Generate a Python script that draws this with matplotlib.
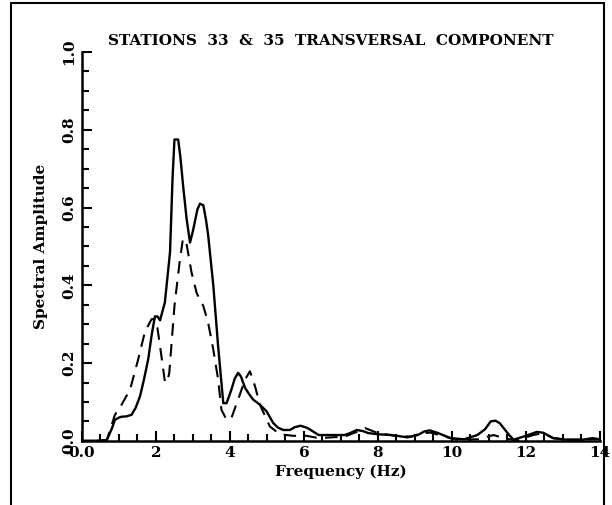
import matplotlib
matplotlib.use('Agg')
import matplotlib.pyplot as plt
from matplotlib.patches import Rectangle
from matplotlib.ticker import MultipleLocator

# station 33 (solid) and station 35 (dashed)
freq_a = [0.0, 0.3, 0.67, 0.8, 0.89, 1.0, 1.07, 1.2, 1.34, 1.45, 1.57, 1.68,
          1.79, 1.88, 1.97, 2.04, 2.11, 2.24, 2.38, 2.45, 2.5, 2.6, 2.66,
          2.74, 2.83, 2.92, 3.0, 3.05, 3.12, 3.19, 3.28, 3.35, 3.41, 3.55,
          3.68, 3.82, 3.91, 4.04, 4.13, 4.22, 4.3, 4.41, 4.52, 4.63, 4.81,
          4.99, 5.17, 5.3, 5.44, 5.62, 5.75, 5.91, 6.1, 6.4, 7.1, 7.25, 7.43,
          7.6, 7.74, 8.0, 8.37, 8.8, 9.08, 9.25, 9.4, 9.6, 9.97, 10.33, 10.69,
          10.9, 11.05, 11.18, 11.3, 11.4, 11.55, 11.67, 11.94, 12.3, 12.47,
          12.74, 13.1, 13.55, 13.8, 14.0]
amp_a = [0.0, 0.0, 0.002, 0.03, 0.054, 0.06, 0.062, 0.063, 0.067, 0.085,
         0.115, 0.16, 0.21, 0.27, 0.32, 0.32, 0.31, 0.356, 0.485, 0.68, 0.775,
         0.775, 0.73, 0.65, 0.57, 0.51, 0.54, 0.563, 0.595, 0.61, 0.606, 0.57,
         0.53, 0.40, 0.244, 0.097, 0.097, 0.132, 0.16, 0.175, 0.165, 0.136,
         0.12, 0.106, 0.093, 0.076, 0.046, 0.034, 0.028, 0.028, 0.035, 0.039,
         0.033, 0.015, 0.015, 0.02, 0.028, 0.025, 0.02, 0.017, 0.015, 0.009,
         0.015, 0.024, 0.027, 0.021, 0.007, 0.004, 0.015, 0.03, 0.05, 0.052,
         0.045, 0.033, 0.015, 0.003, 0.011, 0.023, 0.021, 0.007, 0.003, 0.003,
         0.007, 0.004]

freq_b = [0.0, 0.3, 0.67, 0.89, 1.07, 1.3, 1.52, 1.7, 1.88, 1.97, 2.04, 2.11,
          2.24, 2.3, 2.36, 2.5, 2.64, 2.73, 2.82, 2.96, 3.1, 3.28, 3.41, 3.55,
          3.68, 3.77, 3.91, 4.04, 4.22, 4.41, 4.54, 4.68, 4.81, 5.08, 5.35,
          5.71, 6.07, 6.4, 7.1, 7.4, 7.65, 8.0, 8.46, 8.9, 9.17, 9.44, 9.8,
          10.15, 10.7, 11.13, 11.4, 11.76, 12.2, 12.47, 12.74, 13.2, 13.9]
amp_b = [0.0, 0.0, 0.002, 0.067, 0.093, 0.132, 0.21, 0.28, 0.313, 0.313, 0.29,
         0.244, 0.153, 0.15, 0.175, 0.347, 0.46, 0.52, 0.51, 0.434, 0.38,
         0.347, 0.304, 0.235, 0.158, 0.08, 0.054, 0.059, 0.106, 0.158, 0.179,
         0.14, 0.093, 0.037, 0.017, 0.013, 0.013, 0.007, 0.011, 0.022, 0.033,
         0.02, 0.013, 0.011, 0.02, 0.021, 0.011, 0.003, 0.004, 0.015, 0.007,
         0.001, 0.015, 0.02, 0.007, 0.003, 0.004]

x_ticks = [0, 2, 4, 6, 8, 10, 12, 14]
x_labels = ['0.0', '2', '4', '6', '8', '10', '12', '14']
y_ticks = [0.0, 0.2, 0.4, 0.6, 0.8, 1.0]
y_labels = ['0.0', '0.2', '0.4', '0.6', '0.8', '1.0']

plt.rcParams['font.family'] = ['DejaVu Serif']
plt.rcParams['font.weight'] = 'bold'

fig = plt.figure(figsize=(6.12, 5.05), dpi=100)
ax = fig.add_axes([0.134, 0.127, 0.846, 0.77])

# frame round the whole picture
fig.patches.append(Rectangle((0.018, -0.05), 0.969, 1.044, transform=fig.transFigure,
                             fill=False, edgecolor='black', linewidth=1.5))

ax.plot(freq_a, amp_a, color='black', linewidth=1.7, solid_joinstyle='round')
ax.plot(freq_b, amp_b, color='black', linewidth=1.5, dashes=(6, 4))

ax.set_xlim(0, 14)
ax.set_ylim(0, 1.0)
ax.set_xticks(x_ticks)
ax.set_xticklabels(x_labels, fontsize=11, fontweight='bold')
ax.set_yticks(y_ticks)
ax.set_yticklabels(y_labels, fontsize=11, fontweight='bold', rotation=90, va='center')
ax.xaxis.set_minor_locator(MultipleLocator(0.5))
ax.yaxis.set_minor_locator(MultipleLocator(0.05))
ax.tick_params(which='both', direction='in', width=1.5, top=False, right=False)
ax.tick_params(which='major', length=7, pad=4)
ax.tick_params(which='minor', length=5)

for s in ['top', 'right']:
    ax.spines[s].set_visible(False)
for s in ['left', 'bottom']:
    ax.spines[s].set_linewidth(1.8)

ax.set_xlabel('Frequency (Hz)', fontsize=11, fontweight='bold', labelpad=3)
ax.set_ylabel('Spectral Amplitude', fontsize=11, fontweight='bold')
ax.yaxis.set_label_coords(-0.066, 0.5)
fig.text(0.54, 0.911, 'STATIONS  33  &  35  TRANSVERSAL  COMPONENT',
         ha='center', va='baseline', fontsize=11, fontweight='bold')

fig.savefig('out.png', dpi=100)
